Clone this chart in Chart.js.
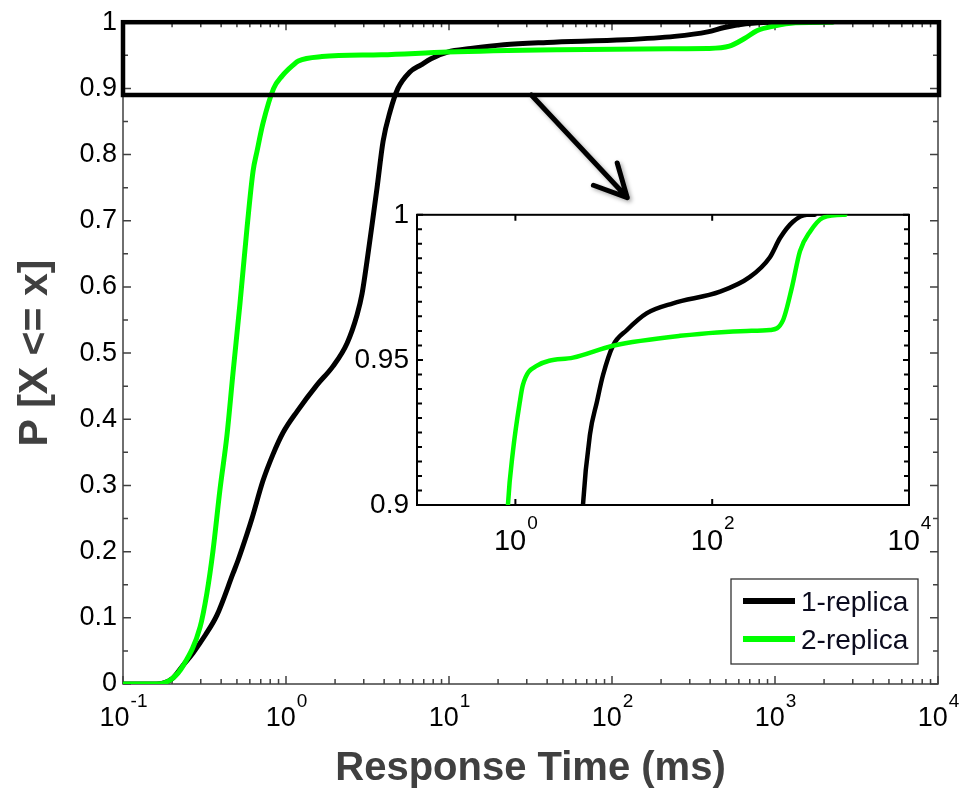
<!DOCTYPE html>
<html>
<head>
<meta charset="utf-8">
<script src="https://cdn.jsdelivr.net/npm/chart.js@4.4.1/dist/chart.umd.min.js"></script>
<style>
  html, body { margin: 0; padding: 0; background: #fff; overflow: hidden; }
  #wrap { position: relative; width: 967px; height: 793px; }
  #main { position: absolute; left: 0; top: 0; }
  #inset { position: absolute; left: 330px; top: 190px; }
</style>
</head>
<body>
<div id="wrap">
  <canvas id="main" width="967" height="793"></canvas>
  <canvas id="inset" width="630" height="370"></canvas>
</div>
<script>
// CDF of response time ----------------------------------------------------------------
const rep1_x = [0.1, 0.16, 0.2, 0.233, 0.269, 0.32, 0.377, 0.473, 0.508, 0.577,
  0.618, 0.722, 0.832, 0.96, 1.17, 1.55, 1.94, 2.37, 2.73, 2.93,
  3.14, 3.42, 3.62, 3.94, 4.35, 4.86, 5.73, 6.74, 7.76, 9.8,
  13.6, 21.7, 40, 120, 242, 386, 489, 662, 918, 1100];
const rep1_y = [0, 0, 0.008, 0.028, 0.047, 0.074, 0.104, 0.167, 0.187, 0.227,
  0.25, 0.307, 0.347, 0.38, 0.412, 0.452, 0.48, 0.515, 0.558, 0.59,
  0.639, 0.705, 0.75, 0.82, 0.865, 0.9, 0.9244, 0.9356, 0.9447, 0.9549,
  0.9603, 0.9661, 0.9695, 0.9735, 0.9786, 0.9854, 0.992, 0.9976, 1, 1];

const rep2_x = [0.1, 0.163, 0.2, 0.233, 0.297, 0.327, 0.356, 0.394, 0.434, 0.473,
  0.522, 0.577, 0.628, 0.664, 0.722, 0.84, 0.945, 1.11, 1.19, 1.66,
  3.85, 9.8, 47, 226, 386, 525, 646, 780, 986, 1336,
  2140, 2250];
const rep2_y = [0, 0, 0.008, 0.027, 0.086, 0.137, 0.2, 0.295, 0.375, 0.47,
  0.575, 0.69, 0.775, 0.805, 0.847, 0.9, 0.9186, 0.9356, 0.9413, 0.948,
  0.9508, 0.9549, 0.9583, 0.96, 0.9603, 0.9637, 0.975, 0.9875, 0.9942, 0.999,
  1, 1];

const seriesNames = ['1-replica', '2-replica'];
const seriesColors = ['#000000', '#00ff00'];

const mainDecades = [0.1, 1, 10, 100, 1000, 10000];
const insetDecades = [1, 100, 10000];
const zoomBox = {yMin: 0.89, yMax: 1};
const arrowFrom = {x: 32, y: 0.89};
const arrowTo = {x: 124, y: 0.735};

const FONT = '"Liberation Sans", Arial, Helvetica, sans-serif';
Chart.defaults.font.family = FONT;
Chart.defaults.color = '#000';

const pts = (xs, ys) => xs.map((x, i) => ({x: x, y: ys[i]}));
const plainNum = v => String(+(+v).toFixed(3));   // 1 -> "1", 0.90 -> "0.9"

function makeDatasets(width) {
  return [
    {label: seriesNames[0], data: pts(rep1_x, rep1_y), borderColor: seriesColors[0], order: 1},
    {label: seriesNames[1], data: pts(rep2_x, rep2_y), borderColor: seriesColors[1], order: 0}
  ].map(d => Object.assign(d, {
    showLine: true, pointRadius: 0, fill: false, borderWidth: width,
    cubicInterpolationMode: 'monotone', borderCapStyle: 'round', borderJoinStyle: 'round'
  }));
}

// minor ticks of the log axis (2..9 in each decade)
const mainMinorX = [];
mainDecades.slice(0, -1).forEach(d => { for (let k = 2; k < 10; k++) mainMinorX.push(k * d); });

// inward (matlab style) ticks + axes box
const boxTicks = {
  id: 'boxTicks',
  beforeDatasetsDraw(chart, args, o) {
    const {ctx, chartArea: a, scales: {x, y}} = chart;
    ctx.save();
    ctx.strokeStyle = o.color;
    ctx.lineWidth = o.width;
    ctx.beginPath();
    const xt = (list, L) => list.forEach(v => {
      const X = x.getPixelForValue(v);
      ctx.moveTo(X, a.bottom); ctx.lineTo(X, a.bottom - L);
      ctx.moveTo(X, a.top); ctx.lineTo(X, a.top + L);
    });
    const yt = (list, L) => list.forEach(v => {
      const Y = y.getPixelForValue(v);
      ctx.moveTo(a.left, Y); ctx.lineTo(a.left + L, Y);
      ctx.moveTo(a.right, Y); ctx.lineTo(a.right - L, Y);
    });
    xt(o.xMajor, o.majorLen);
    xt(o.xMinor, o.minorLen);
    const ys = y.ticks.map(t => t.value);
    yt(ys, o.majorLen);
    const ym = [];
    for (let i = 0; i < ys.length - 1; i++) {
      for (let k = 1; k < o.ySub; k++) ym.push(ys[i] + (ys[i + 1] - ys[i]) * k / o.ySub);
    }
    yt(ym, o.minorLen);
    ctx.stroke();
    ctx.strokeRect(a.left, a.top, a.width, a.height);
    ctx.restore();
  },
  beforeDraw(chart, args, o) {
    if (!o.fill) return;
    const {ctx, chartArea: a} = chart;
    ctx.save();
    ctx.fillStyle = '#fff';
    ctx.fillRect(a.left, a.top, a.width, a.height);
    ctx.restore();
  }
};

// 10^n tick labels
const decadeLabels = {
  id: 'decadeLabels',
  afterDraw(chart, args, o) {
    const {ctx, chartArea: a, scales: {x}} = chart;
    ctx.save();
    ctx.fillStyle = '#000';
    ctx.textAlign = 'left';
    ctx.textBaseline = 'middle';
    o.values.forEach(v => {
      const X = x.getPixelForValue(v);
      const e = String(Math.round(Math.log10(v)));
      ctx.font = o.size + 'px ' + FONT;
      const w1 = ctx.measureText('10').width;
      ctx.font = o.supSize + 'px ' + FONT;
      const w2 = ctx.measureText(e).width;
      const left = X - (w1 + w2) / 2;
      ctx.font = o.size + 'px ' + FONT;
      ctx.fillText('10', left, a.bottom + o.dy);
      ctx.font = o.supSize + 'px ' + FONT;
      ctx.fillText(e, left + w1 + 1, a.bottom + o.supDy);
    });
    ctx.restore();
  }
};

// zoom rectangle, arrow and legend of the main plot
const mainExtras = {
  id: 'mainExtras',
  afterDatasetsDraw(chart) {
    const {ctx, chartArea: a, scales: {x, y}} = chart;
    ctx.save();
    ctx.strokeStyle = '#000';
    ctx.lineWidth = 4.5;
    const yt = y.getPixelForValue(zoomBox.yMax), yb = y.getPixelForValue(zoomBox.yMin);
    ctx.strokeRect(a.left, yt, a.width + 1, yb - yt);

    const x0 = x.getPixelForValue(arrowFrom.x), y0 = y.getPixelForValue(arrowFrom.y);
    const x1 = x.getPixelForValue(arrowTo.x), y1 = y.getPixelForValue(arrowTo.y);
    const ang = Math.atan2(y1 - y0, x1 - x0);
    ctx.shadowColor = 'rgba(0,0,0,0.35)';
    ctx.shadowBlur = 4;
    ctx.shadowOffsetX = 2;
    ctx.shadowOffsetY = 2;
    ctx.lineWidth = 5;
    ctx.lineCap = 'round';
    ctx.lineJoin = 'round';
    ctx.beginPath();
    ctx.moveTo(x0, y0); ctx.lineTo(x1, y1);
    [-0.47, 0.47].forEach(s => {
      ctx.moveTo(x1, y1);
      ctx.lineTo(x1 - 36 * Math.cos(ang + s), y1 - 36 * Math.sin(ang + s));
    });
    ctx.stroke();
    ctx.restore();
  },
  afterDraw(chart) {
    const {ctx, chartArea: a} = chart;
    const bw = 187, bh = 85;
    const bx = a.right - 20 - bw, by = a.bottom - 20 - bh;
    ctx.save();
    ctx.fillStyle = '#fff';
    ctx.fillRect(bx, by, bw, bh);
    ctx.strokeStyle = '#333';
    ctx.lineWidth = 1.3;
    ctx.strokeRect(bx, by, bw, bh);
    chart.data.datasets.forEach((d, i) => {
      const ly = by + 22 + i * 38;
      ctx.strokeStyle = d.borderColor;
      ctx.lineWidth = 6;
      ctx.beginPath();
      ctx.moveTo(bx + 12, ly); ctx.lineTo(bx + 64, ly);
      ctx.stroke();
      ctx.fillStyle = '#0b0b1e';
      ctx.font = '28px ' + FONT;
      ctx.textAlign = 'left';
      ctx.textBaseline = 'middle';
      ctx.fillText(d.label, bx + 70, ly + 2);
    });
    ctx.restore();
  }
};

new Chart(document.getElementById('main'), {
  type: 'scatter',
  data: {datasets: makeDatasets(5)},
  plugins: [boxTicks, decadeLabels, mainExtras],
  options: {
    responsive: false,
    animation: false,
    events: [],
    layout: {padding: {top: 19, right: 29, left: 0, bottom: 0}},
    scales: {
      x: {
        type: 'logarithmic', min: 0.1, max: 10000,
        grid: {display: false, drawTicks: false}, border: {display: false},
        ticks: {display: false},
        title: {display: true, text: 'Response Time (ms)', color: '#404040',
          font: {size: 40, weight: 'bold'}, padding: {top: 0, bottom: 0}},
        afterFit: s => { s.height = 109; }
      },
      y: {
        min: 0, max: 1,
        grid: {display: false, drawTicks: false}, border: {display: false},
        ticks: {stepSize: 0.1, font: {size: 27}, color: '#000', padding: 6, callback: plainNum},
        title: {display: true, text: 'P [X <= x]', color: '#404040',
          font: {size: 41, weight: 'bold'}, padding: {top: 11, bottom: 0}},
        afterFit: s => { s.width = 123; }
      }
    },
    plugins: {
      legend: {display: false},
      tooltip: {enabled: false},
      boxTicks: {color: '#404040', width: 1.5, majorLen: 8, minorLen: 5, ySub: 2,
        xMajor: mainDecades, xMinor: mainMinorX, fill: false},
      decadeLabels: {values: mainDecades, size: 27, supSize: 19, dy: 35, supDy: 18}
    }
  }
});

new Chart(document.getElementById('inset'), {
  type: 'scatter',
  data: {datasets: makeDatasets(4.5)},
  plugins: [boxTicks, decadeLabels],
  options: {
    responsive: false,
    animation: false,
    events: [],
    layout: {padding: {top: 20, right: 51, left: 0, bottom: 0}},
    scales: {
      x: {
        type: 'logarithmic', min: 0.1, max: 10000,
        grid: {display: false, drawTicks: false}, border: {display: false},
        ticks: {display: false},
        afterFit: s => { s.height = 55; }
      },
      y: {
        min: 0.9, max: 1,
        grid: {display: false, drawTicks: false}, border: {display: false},
        ticks: {stepSize: 0.05, font: {size: 28}, color: '#000', padding: 8, callback: plainNum},
        afterFit: s => { s.width = 87; }
      }
    },
    plugins: {
      legend: {display: false},
      tooltip: {enabled: false},
      boxTicks: {color: '#000', width: 2, majorLen: 6, minorLen: 5, ySub: 10,
        xMajor: insetDecades, xMinor: [], fill: true},
      decadeLabels: {values: insetDecades, size: 29, supSize: 19, dy: 37, supDy: 19}
    }
  }
});
</script>
</body>
</html>
